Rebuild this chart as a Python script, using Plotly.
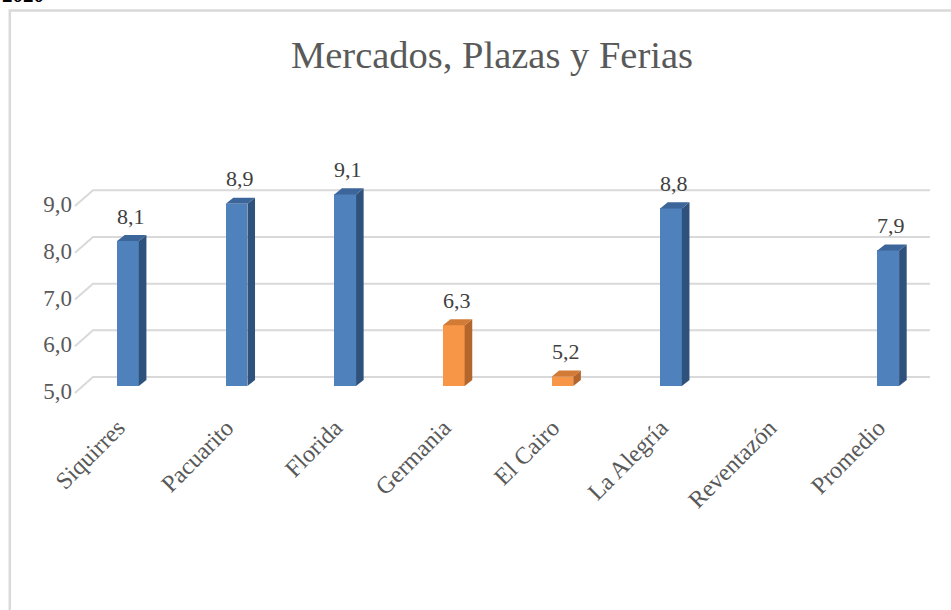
import plotly.graph_objects as go

categories = ["Siquirres", "Pacuarito", "Florida", "Germania", "El Cairo", "La Alegría", "Reventazón", "Promedio"]
values = [8.1, 8.9, 9.1, 6.3, 5.2, 8.8, None, 7.9]
highlight = [False, False, False, True, True, False, False, False]
y_ticks = [5, 6, 7, 8, 9]
y_ticktext = ["5,0", "6,0", "7,0", "8,0", "9,0"]
title_text = "Mercados, Plazas y Ferias"
corner_text = "2020"

BASE = 5.0
BAR_W = 0.2
DX = 0.07   # depth in x (data units)
DY = 0.13   # depth in y (data units)

BLUE = dict(front="#4F81BD", top="#3C659A", side="#2F527D")
ORANGE = dict(front="#F79646", top="#D27B36", side="#B3652B")

W, H = 951, 610
ML, MR, MT, MB = 73, 19, 150, 215
PW, PH = W - ML - MR, H - MT - MB
X_RANGE = [-0.506, 7.403]
Y_RANGE = [4.807, 10.05]


def px_to_paper_x(p):
    return (p - ML) / PW


def px_to_paper_y(p):
    return (H - MB - p) / PH


fig = go.Figure()

# back-plane gridlines with perspective stubs (below traces)
for t in y_ticks:
    fig.add_shape(type="path", xref="x", yref="y", layer="below",
                  path=f"M-0.488,{t - 0.15} L-0.322,{t + 0.19} L7.385,{t + 0.19}",
                  line=dict(color="#D9D9D9", width=2))

# front faces
xs = [i for i, v in enumerate(values) if v is not None]
vs = [v for v in values if v is not None]
cols = [(ORANGE if highlight[i] else BLUE)["front"] for i in xs]
fig.add_trace(go.Bar(x=xs, y=[v - BASE for v in vs], base=BASE, width=BAR_W,
                     marker=dict(color=cols, line=dict(width=0)), showlegend=False,
                     hovertext=[f"{categories[i]}: {v}" for i, v in zip(xs, vs)], hoverinfo="text"))

# side and top faces
for i, v in zip(xs, vs):
    pal = ORANGE if highlight[i] else BLUE
    xr = i + BAR_W / 2
    xl = i - BAR_W / 2
    fig.add_trace(go.Scatter(x=[xr, xr + DX, xr + DX, xr, xr], y=[v, v + DY, BASE + DY, BASE, v],
                             fill="toself", fillcolor=pal["side"], mode="lines",
                             line=dict(width=0, color=pal["side"]), hoverinfo="skip", showlegend=False))
    fig.add_trace(go.Scatter(x=[xl, xr, xr + DX, xl + DX, xl], y=[v, v, v + DY, v + DY, v],
                             fill="toself", fillcolor=pal["top"], mode="lines",
                             line=dict(width=0, color=pal["top"]), hoverinfo="skip", showlegend=False))

# data labels
for i, v in zip(xs, vs):
    fig.add_annotation(x=i + 0.03, y=v, text=f"{v:.1f}".replace(".", ","), showarrow=False,
                       yanchor="middle", yshift=25,
                       font=dict(family="Liberation Serif", size=22, color="#404040"))

fig.add_annotation(xref="paper", yref="paper", x=px_to_paper_x(46), y=px_to_paper_y(9),
                   xanchor="right", yanchor="bottom",
                   text=f"<b>{corner_text}</b>", showarrow=False,
                   font=dict(family="Liberation Serif", size=21, color="#000000"))

fig.add_shape(type="rect", xref="paper", yref="paper",
              x0=px_to_paper_x(9.8), x1=px_to_paper_x(W + 20), y0=px_to_paper_y(H + 20), y1=px_to_paper_y(10.5),
              line=dict(color="#D9D9D9", width=2.5), fillcolor="rgba(0,0,0,0)", layer="below")

fig.update_layout(
    width=W, height=H,
    margin=dict(l=ML, r=MR, t=MT, b=MB, autoexpand=False),
    paper_bgcolor="white", plot_bgcolor="white",
    title=dict(text=title_text, x=492 / W, xanchor="center", y=1 - 55 / H, yanchor="middle",
               font=dict(family="Liberation Serif", size=38.5, color="#595959")),
    xaxis=dict(range=X_RANGE, tickmode="array", tickvals=list(range(len(categories))), ticktext=categories,
               tickangle=-45, showgrid=False, zeroline=False, showline=False, ticks="", automargin=False,
               ticklabelshift=-10, ticklabelstandoff=13,
               tickfont=dict(family="Liberation Serif", size=24, color="#595959")),
    yaxis=dict(range=Y_RANGE, tickmode="array", tickvals=y_ticks, ticktext=y_ticktext,
               showgrid=False, zeroline=False, showline=False, ticks="", automargin=False,
               ticklabelshift=5,
               tickfont=dict(family="Liberation Serif", size=23, color="#595959")),
    bargap=0,
)

fig.write_html("out.html", config={"displayModeBar": False},
               post_script="document.body.style.margin='0';document.body.style.overflow='hidden';")
